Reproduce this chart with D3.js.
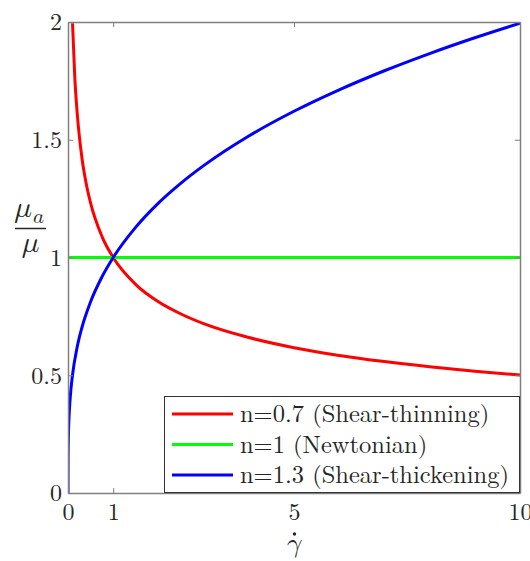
<!DOCTYPE html>
<html>
<head>
<meta charset="utf-8">
<script src="https://cdn.jsdelivr.net/npm/d3@7"></script>
<style>
  html, body { margin: 0; padding: 0; background: #fff; }
  svg { display: block; }
</style>
</head>
<body>
<svg id="chart" width="530" height="561"></svg>
<script>
// Shear rate samples and apparent-viscosity ratio for each fluid
const gammaThin = [0.1, 0.15, 0.2, 0.3, 0.4, 0.5, 0.75, 1, 1.5, 2, 2.5, 3, 4, 5, 6, 7, 8, 9, 10];
const muThin    = [1.995, 1.766, 1.621, 1.435, 1.316, 1.231, 1.090, 1.0, 0.885, 0.812, 0.760, 0.719, 0.660, 0.617, 0.584, 0.558, 0.536, 0.517, 0.501];

const gammaNewt = [0, 10];
const muNewt    = [1, 1];

const gammaThick = [0, 0.0005, 0.001, 0.003, 0.005, 0.01, 0.02, 0.05, 0.1, 0.2, 0.3, 0.5, 0.75, 1, 1.5, 2, 2.5, 3, 4, 5, 6, 7, 8, 9, 10];
const muThick    = [0, 0.102, 0.126, 0.175, 0.204, 0.251, 0.309, 0.407, 0.501, 0.617, 0.697, 0.812, 0.917, 1.0, 1.129, 1.231, 1.316, 1.390, 1.516, 1.621, 1.712, 1.793, 1.866, 1.933, 1.995];

const seriesNames  = ["n=0.7 (Shear-thinning)", "n=1 (Newtonian)", "n=1.3 (Shear-thickening)"];
const seriesColors = ["#ff0000", "#00ff00", "#0000ff"];

const xTicks = [0, 1, 5, 10];
const yTicks = [0, 0.5, 1, 1.5, 2];

const series = [
  { name: seriesNames[0], color: seriesColors[0], x: gammaThin,  y: muThin },
  { name: seriesNames[1], color: seriesColors[1], x: gammaNewt,  y: muNewt },
  { name: seriesNames[2], color: seriesColors[2], x: gammaThick, y: muThick }
];

const textFont = "'Latin Modern Roman', 'CMU Serif', 'Liberation Serif', serif";
const mathFont = "'Latin Modern Math', 'Latin Modern Roman', 'CMU Serif', 'DejaVu Serif', serif";
const textColor = "#262626";

const svg = d3.select("#chart");
const pLeft = 68, pRight = 520, pTop = 22, pBottom = 493;

const x = d3.scaleLinear().domain([0, 10]).range([pLeft, pRight]);
const y = d3.scaleLinear().domain([0, 2]).range([pBottom, pTop]);

const axisColor = "#808080";
const tickLen = 5;

svg.append("defs").append("clipPath").attr("id", "plotClip")
  .append("rect").attr("x", pLeft).attr("y", pTop)
  .attr("width", pRight - pLeft).attr("height", pBottom - pTop);

// Curves
const line = d3.line()
  .x(d => x(d[0]))
  .y(d => y(d[1]))
  .curve(d3.curveMonotoneX);

const plot = svg.append("g").attr("clip-path", "url(#plotClip)");
series.forEach(s => {
  plot.append("path")
    .datum(s.x.map((v, i) => [v, s.y[i]]))
    .attr("d", line)
    .attr("fill", "none")
    .attr("stroke", s.color)
    .attr("stroke-width", 3);
});

// Axes on all four sides, ticks pointing inward
function styleAxis(g) {
  g.select(".domain").attr("stroke", axisColor).attr("stroke-width", 1.5);
  g.selectAll(".tick line").attr("stroke", axisColor).attr("stroke-width", 1);
}

const xBottom = svg.append("g").attr("transform", `translate(0,${pBottom})`)
  .call(d3.axisBottom(x).tickValues(xTicks).tickSizeInner(-tickLen).tickSizeOuter(0).tickFormat(d3.format("d")));
styleAxis(xBottom);
xBottom.selectAll(".tick text")
  .style("font-family", textFont).style("font-size", "24px")
  .attr("fill", textColor).attr("y", 27).attr("dy", 0);

const xTop = svg.append("g").attr("transform", `translate(0,${pTop})`)
  .call(d3.axisTop(x).tickValues(xTicks).tickSizeInner(-tickLen).tickSizeOuter(0).tickFormat(""));
styleAxis(xTop);

const yLeft = svg.append("g").attr("transform", `translate(${pLeft},0)`)
  .call(d3.axisLeft(y).tickValues(yTicks).tickSizeInner(-tickLen).tickSizeOuter(0).tickPadding(6).tickFormat(d3.format("")));
styleAxis(yLeft);
yLeft.selectAll(".tick text")
  .style("font-family", textFont).style("font-size", "24px")
  .attr("fill", textColor).attr("dy", "0.33em");

const yRight = svg.append("g").attr("transform", `translate(${pRight},0)`)
  .call(d3.axisRight(y).tickValues(yTicks).tickSizeInner(-tickLen).tickSizeOuter(0).tickFormat(""));
styleAxis(yRight);

// x label: gamma with a dot above
const xl = svg.append("g").attr("transform", `translate(${x(5)},0)`);
xl.append("text").attr("x", 0).attr("y", 552)
  .attr("text-anchor", "middle").style("font-family", mathFont).style("font-size", "27px")
  .attr("fill", textColor).text("\u{1D6FE}");
xl.append("circle").attr("cx", 0.5).attr("cy", 534).attr("r", 1.7).attr("fill", textColor);

// y label: mu_a over mu
const yl = svg.append("g");
yl.append("text").attr("x", 14).attr("y", 217).style("font-family", mathFont).style("font-size", "30px")
  .attr("fill", textColor).text("\u{1D707}");
yl.append("text").attr("x", 33).attr("y", 223).style("font-family", mathFont).style("font-size", "21px")
  .attr("fill", textColor).text("\u{1D44E}");
yl.append("line").attr("x1", 15).attr("x2", 46).attr("y1", 228.5).attr("y2", 228.5)
  .attr("stroke", textColor).attr("stroke-width", 1.5);
yl.append("text").attr("x", 21.5).attr("y", 252).style("font-family", mathFont).style("font-size", "30px")
  .attr("fill", textColor).text("\u{1D707}");

// Legend
const lg = svg.append("g");
lg.append("rect").attr("x", 164.5).attr("y", 396.5).attr("width", 355).attr("height", 96)
  .attr("fill", "#fff").attr("stroke", "#333").attr("stroke-width", 1);
series.forEach((s, i) => {
  const cy = 414 + i * 30.5;
  lg.append("line").attr("x1", 172).attr("x2", 233).attr("y1", cy).attr("y2", cy)
    .attr("stroke", s.color).attr("stroke-width", 3);
  lg.append("text").attr("x", 240).attr("y", cy).attr("dy", "0.33em")
    .style("font-family", textFont).style("font-size", "24.5px")
    .attr("fill", textColor).text(s.name);
});
</script>
</body>
</html>
